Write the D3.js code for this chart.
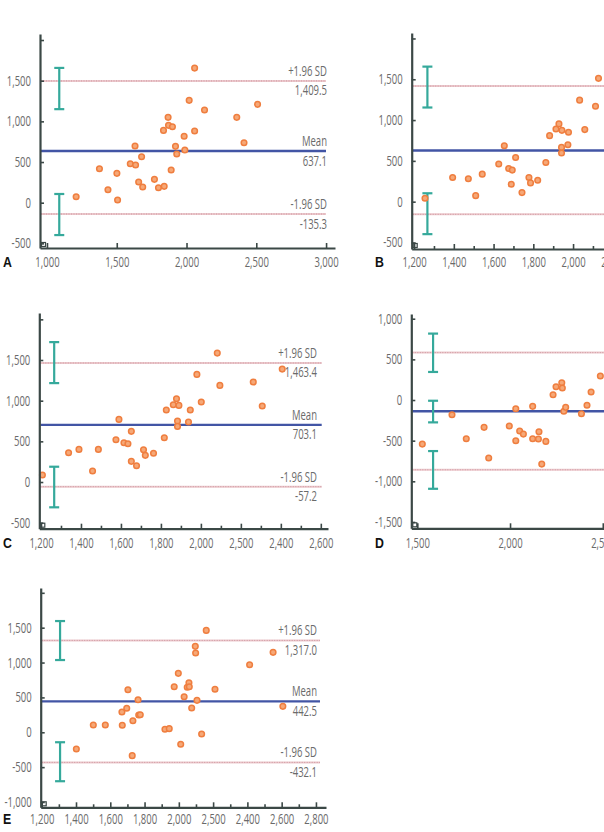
<!DOCTYPE html>
<html>
<head>
<meta charset="utf-8">
<script src="https://cdn.jsdelivr.net/npm/d3@7.9.0/dist/d3.min.js"></script>
<style>
  html, body { margin: 0; padding: 0; background: #fff; }
  svg { display: block; }
  .tick text, .lbl { font-family: "Open Sans", "Noto Sans", sans-serif; font-weight: 400; font-size: 14px; fill: #6a6a6a; }
</style>
</head>
<body>
<svg id="chart" width="604" height="832"></svg>
<script>
// --- data: [mean of two methods, difference] ---
const pointsA = [[1209,74],[1376,418],[1437,160],[1501,361],[1506,33],[1597,479],[1631,697],[1635,463],[1657,254],[1678,565],[1686,193],[1770,287],[1799,184],[1840,201],[1835,889],[1868,1049],[1871,951],[1899,934],[1890,402],[1921,693],[1930,598],[1983,816],[1988,647],[2019,1258],[2058,1655],[2058,881],[2129,1139],[2360,1049],[2412,737],[2509,1209]];
const pointsB = [[1255,42],[1394,296],[1473,280],[1510,74],[1543,337],[1626,461],[1654,686],[1676,406],[1694,387],[1689,214],[1711,542],[1743,111],[1778,296],[1786,230],[1822,263],[1863,480],[1882,809],[1914,891],[1929,953],[1944,874],[1942,665],[1942,596],[1977,850],[1974,698],[2033,1244],[2059,883],[2113,1170],[2128,1511]];
const pointsC = [[1207,86],[1338,360],[1390,401],[1458,135],[1487,401],[1575,520],[1590,770],[1615,483],[1635,471],[1652,623],[1652,254],[1678,200],[1713,397],[1722,328],[1763,353],[1817,544],[1827,885],[1862,950],[1878,1024],[1890,942],[1883,749],[1883,684],[1938,737],[1947,885],[1980,1323],[2002,983],[2082,1585],[2095,1188],[2262,1229],[2307,934],[2407,1388]];
const pointsD = [[1527,-542],[1687,-181],[1764,-476],[1860,-336],[1885,-714],[1996,-320],[2031,-107],[2031,-501],[2052,-382],[2072,-419],[2122,-78],[2122,-476],[2153,-480],[2156,-390],[2171,-788],[2193,-509],[2232,65],[2248,164],[2279,213],[2282,148],[2290,-139],[2300,-90],[2385,-169],[2415,-65],[2437,98],[2487,296]];
const pointsE = [[1402,-239],[1501,105],[1571,105],[1668,291],[1670,100],[1696,344],[1703,610],[1728,-335],[1732,166],[1762,467],[1766,248],[1775,252],[1919,43],[1944,52],[1973,653],[1997,845],[2011,-172],[2031,510],[2049,645],[2059,711],[2061,653],[2075,348],[2096,1232],[2098,1136],[2106,458],[2133,-24],[2160,1461],[2211,616],[2413,968],[2550,1146],[2607,372]];

// limit lines as drawn: [upper, mean, lower]
const linesA = [1497, 635, -139];
const linesB = [1417, 628, -155];
const linesC = [1463.4, 703.1, -57.2];
const linesD = [583, -139, -858];
const linesE = [1317.0, 442.5, -432.1];

// printed labels
const labelsA = ['1,409.5', '637.1', '-135.3'];
const labelsC = ['1,463.4', '703.1', '-57.2'];
const labelsE = ['1,317.0', '442.5', '-432.1'];
const lineHeads = ['+1.96 SD', 'Mean', '-1.96 SD'];

// confidence bars: x position, [[high, low], ...]
const barsA = { x: 1088, ranges: [[1657,1150],[107,-398]] };
const barsB = { x: 1267, ranges: [[1655,1154],[103,-398]] };
const barsC = { x: 1266, ranges: [[1720,1216],[188,-311]] };
const barsD = { x: 1585, ranges: [[817,345],[-9,-275],[-628,-1092]] };
const barsE = { x: 1307, ranges: [[1595,1036],[-143,-702]] };

// tick values and labels
const xTicksA = [1000, 1500, 2000, 2500, 3000];
const xLabelsA = ['1,000', '1,500', '2,000', '2,500', '3,000'];
const xTicksB = [1200, 1400, 1600, 1800, 2000, 2200];
const xLabelsB = ['1,200', '1,400', '1,600', '1,800', '2,000', '2,200'];
const xTicksC = [1200, 1400, 1600, 1800, 2000, 2200, 2400, 2600];
const xLabelsC = ['1,200', '1,400', '1,600', '1,800', '2,000', '2,500', '2,400', '2,600'];
const xTicksD = [1500, 2000, 2500];
const xLabelsD = ['1,500', '2,000', '2,500'];
const xTicksE = [1200, 1400, 1600, 1800, 2000, 2200, 2400, 2600, 2800];
const xLabelsE = ['1,200', '1,400', '1,600', '1,800', '2,000', '2,500', '2,400', '2,600', '2,800'];
const yTicksA = [-500, 0, 500, 1000, 1500, 2000];
const yTicksD = [-1500, -1000, -500, 0, 500, 1000];
const yTicksE = [-1000, -500, 0, 500, 1000, 1500, 2000];
const yLabelMax = { A: 1500, B: 1500, C: 1500, D: 1000, E: 1500 };

// layout of each panel (pixels) and its visible domain
const panels = [
  { id: 'A', pts: pointsA, lines: linesA, labels: labelsA, bars: barsA, xt: xTicksA, xl: xLabelsA, minor: null, yt: yTicksA,
    left: 40, right: 335, top: 34, bottom: 248, xd: [950, 3064], yd: [-557, 2074], lineEnd: 326, textX: 327, pad: 9, letterX: 3, letterY: 267 },
  { id: 'B', pts: pointsB, lines: linesB, labels: null, bars: barsB, xt: xTicksB, xl: xLabelsB, minor: 100, yt: yTicksA,
    left: 411.7, right: 707, top: 33, bottom: 249, xd: [1188, 2674], yd: [-580, 2067], lineEnd: 700, textX: 0, pad: 8, letterX: 375, letterY: 267 },
  { id: 'C', pts: pointsC, lines: linesC, labels: labelsC, bars: barsC, xt: xTicksC, xl: xLabelsC, minor: 100, yt: yTicksA,
    left: 39.3, right: 328, top: 313, bottom: 528.7, xd: [1191.5, 2636], yd: [-574, 2078], lineEnd: 321.7, textX: 317, pad: 9.5, letterX: 3, letterY: 548 },
  { id: 'D', pts: pointsD, lines: linesD, labels: null, bars: barsD, xt: xTicksD, xl: xLabelsD, minor: null, yt: yTicksD,
    left: 411.3, right: 707, top: 314, bottom: 528.3, xd: [1467.6, 3062], yd: [-1578, 1058], lineEnd: 700, textX: 0, pad: 10, letterX: 375, letterY: 548 },
  { id: 'E', pts: pointsE, lines: linesE, labels: labelsE, bars: barsE, xt: xTicksE, xl: xLabelsE, minor: 100, yt: yTicksE,
    left: 40.7, right: 326, top: 588, bottom: 807.3, xd: [1194, 2858.7], yd: [-1076, 2069], lineEnd: 320, textX: 317, pad: 6.5, letterX: 3, letterY: 824 }
];

const svg = d3.select('#chart');
const axisColor = '#3b4846';
const squeeze = 0.68; // the figure uses a condensed face

panels.forEach(p => {
  const x = d3.scaleLinear().domain(p.xd).range([p.left, p.right]);
  const y = d3.scaleLinear().domain(p.yd).range([p.bottom, p.top]);
  const g = svg.append('g');

  // limit lines (upper / lower dotted pink, mean blue)
  const lineX0 = p.left + 1;
  p.lines.forEach((v, i) => {
    if (i === 1) {
      g.append('line')
        .attr('x1', lineX0).attr('x2', p.lineEnd)
        .attr('y1', y(v)).attr('y2', y(v))
        .attr('stroke', '#4255a5').attr('stroke-width', 2.4);
    } else {
      g.append('line')
        .attr('x1', lineX0).attr('x2', p.lineEnd)
        .attr('y1', y(v)).attr('y2', y(v))
        .attr('stroke', '#ecc9cd').attr('stroke-width', 2);
      g.append('line')
        .attr('x1', lineX0).attr('x2', p.lineEnd)
        .attr('y1', y(v)).attr('y2', y(v))
        .attr('stroke', '#cf98a1').attr('stroke-width', 1)
        .attr('stroke-dasharray', '1,1.5');
    }
  });

  // text labels at the right of the limit lines
  if (p.labels) {
    p.lines.forEach((v, i) => {
      g.append('text').attr('class', 'lbl')
        .attr('text-anchor', 'end')
        .attr('transform', `translate(${p.textX},${y(v) - 5}) scale(${squeeze},1)`)
        .text(lineHeads[i]);
      g.append('text').attr('class', 'lbl')
        .attr('text-anchor', 'end')
        .attr('transform', `translate(${p.textX},${y(v) + 14.5}) scale(${squeeze},1)`)
        .text(p.labels[i]);
    });
  }

  // confidence interval bars
  const bx = x(p.bars.x);
  p.bars.ranges.forEach(r => {
    const bg = g.append('g').attr('stroke', '#35a99b').attr('stroke-width', 2.2);
    bg.append('line').attr('x1', bx).attr('x2', bx).attr('y1', y(r[0])).attr('y2', y(r[1]));
    bg.append('line').attr('x1', bx - 5).attr('x2', bx + 5).attr('y1', y(r[0])).attr('y2', y(r[0]));
    bg.append('line').attr('x1', bx - 5).attr('x2', bx + 5).attr('y1', y(r[1])).attr('y2', y(r[1]));
  });

  // points
  g.append('g').selectAll('circle')
    .data(p.pts)
    .join('circle')
    .attr('cx', d => x(d[0]))
    .attr('cy', d => y(d[1]))
    .attr('r', 2.8)
    .attr('fill', '#f6a877')
    .attr('stroke', '#ef7e3f')
    .attr('stroke-width', 1.5);

  // minor x ticks
  if (p.minor) {
    const minorVals = d3.range(p.xt[0] + p.minor, p.xd[1], p.xt[1] - p.xt[0]);
    g.append('g')
      .attr('transform', `translate(0,${p.bottom})`)
      .call(d3.axisBottom(x).tickValues(minorVals).tickSize(-3).tickFormat(''))
      .call(a => a.select('.domain').remove())
      .call(a => a.selectAll('line').attr('stroke', axisColor).attr('stroke-width', 1.6));
  }

  // x axis
  g.append('g')
    .attr('transform', `translate(0,${p.bottom})`)
    .call(d3.axisBottom(x).tickValues(p.xt).tickSize(-5).tickSizeOuter(0).tickPadding(p.pad)
      .tickFormat((d, i) => p.xl[i]))
    .call(a => a.select('.domain').attr('stroke', axisColor).attr('stroke-width', 2.2))
    .call(a => a.selectAll('.tick line').attr('stroke', axisColor).attr('stroke-width', 1.6))
    .call(a => a.selectAll('.tick text').attr('dy', '0.71em').attr('transform', `scale(${squeeze},1)`));

  // y axis
  g.append('g')
    .attr('transform', `translate(${p.left},0)`)
    .call(d3.axisLeft(y).tickValues(p.yt).tickSize(-4).tickSizeOuter(0).tickPadding(9)
      .tickFormat(d => d > yLabelMax[p.id] ? '' : d3.format(',')(d).replace('−', '-')))
    .call(a => a.select('.domain').attr('stroke', axisColor).attr('stroke-width', 2.2))
    .call(a => a.selectAll('.tick line').attr('stroke', axisColor).attr('stroke-width', 1.6))
    .call(a => a.selectAll('.tick text').attr('x', -9 / squeeze).attr('transform', `scale(${squeeze},1)`));

  // small square at the corner
  g.append('rect')
    .attr('x', p.left + 1.5).attr('y', p.bottom - 5.5)
    .attr('width', 4).attr('height', 4)
    .attr('fill', 'none').attr('stroke', axisColor).attr('stroke-width', 1.2);

  // panel letter
  g.append('text')
    .attr('transform', `translate(${p.letterX},${p.letterY}) scale(0.85,1)`)
    .style('font-family', '"Liberation Sans", Arial, sans-serif')
    .style('font-weight', 'bold').style('font-size', '14.5px').style('fill', '#111')
    .text(p.id);
});
</script>
</body>
</html>
